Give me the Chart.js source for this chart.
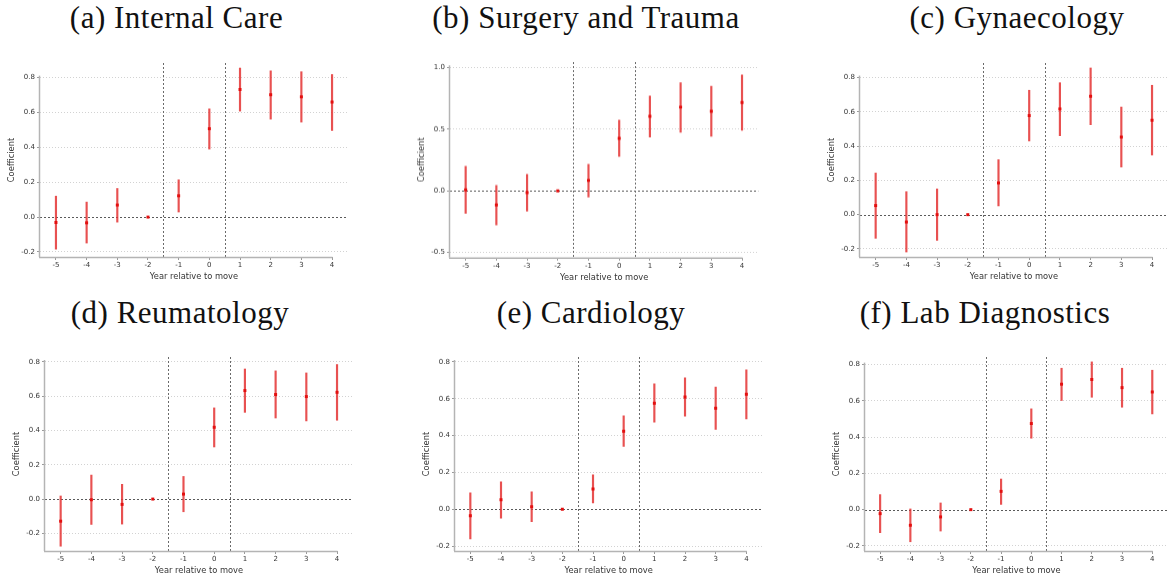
<!DOCTYPE html>
<html>
<head>
<meta charset="utf-8">
<script src="https://cdn.jsdelivr.net/npm/chart.js@4.4.1/dist/chart.umd.min.js"></script>
<style>
  html, body { margin:0; padding:0; background:#fff; width:1167px; height:581px; overflow:hidden; }
  .panel { position:absolute; }
  .ptitle { position:absolute; width:400px; text-align:center; font-family:"Liberation Serif", "Times New Roman", serif;
            font-size:31px; line-height:31px; letter-spacing:0.5px; color:#111; white-space:nowrap; }
</style>
</head>
<body>
<script>
// ---------- DATA ----------
const years = [-5, -4, -3, -2, -1, 0, 1, 2, 3, 4];
const xTickLabels = ['-5', '-4', '-3', '-2', '-1', '0', '1', '2', '3', '4'];
const eventLines = [-1.5, 0.5];

const panelTitles = ['(a) Internal Care', '(b) Surgery and Trauma', '(c) Gynaecology',
                     '(d) Reumatology', '(e) Cardiology', '(f) Lab Diagnostics'];

const yTicksA = [-0.2, 0, 0.2, 0.4, 0.6, 0.8];
const yTickLabelsA = ['-0.2', '0.0', '0.2', '0.4', '0.6', '0.8'];
const yTicksB = [-0.5, 0, 0.5, 1.0];
const yTickLabelsB = ['-0.5', '0.0', '0.5', '1.0'];

// (a) Internal Care
const coefA = [-0.031, -0.033, 0.069, 0, 0.122, 0.507, 0.732, 0.702, 0.690, 0.660];
const loA   = [-0.184, -0.149, -0.029, 0, 0.029, 0.390, 0.608, 0.562, 0.545, 0.497];
const hiA   = [ 0.120,  0.086,  0.164, 0, 0.214, 0.621, 0.855, 0.839, 0.834, 0.818];
// (b) Surgery and Trauma
const coefB = [ 0.008, -0.114, -0.014, 0, 0.084, 0.425, 0.604, 0.678, 0.645, 0.715];
const loB   = [-0.182, -0.276, -0.165, 0, -0.051, 0.279, 0.436, 0.474, 0.442, 0.490];
const hiB   = [ 0.198,  0.043,  0.133, 0, 0.214, 0.572, 0.767, 0.875, 0.848, 0.938];
// (c) Gynaecology
const coefC = [ 0.053, -0.043, 0.000, 0, 0.185, 0.578, 0.617, 0.691, 0.453, 0.551];
const loC   = [-0.138, -0.218, -0.150, 0, 0.051, 0.430, 0.461, 0.525, 0.278, 0.348];
const hiC   = [ 0.243,  0.134,  0.150, 0, 0.321, 0.726, 0.770, 0.856, 0.628, 0.755];
// (d) Reumatology
const coefD = [-0.129, -0.004, -0.031, 0, 0.029, 0.419, 0.633, 0.610, 0.598, 0.623];
const loD   = [-0.275, -0.148, -0.146, 0, -0.074, 0.304, 0.506, 0.473, 0.456, 0.460];
const hiD   = [ 0.018,  0.140,  0.086, 0, 0.132, 0.532, 0.759, 0.748, 0.736, 0.785];
// (e) Cardiology
const coefE = [-0.036, 0.051, 0.013, 0, 0.110, 0.424, 0.576, 0.610, 0.549, 0.625];
const loE   = [-0.161, -0.049, -0.067, 0, 0.034, 0.341, 0.473, 0.505, 0.433, 0.491];
const hiE   = [ 0.089, 0.149, 0.094, 0, 0.187, 0.507, 0.681, 0.714, 0.663, 0.757];
// (f) Lab Diagnostics
const coefF = [-0.022, -0.086, -0.040, 0, 0.101, 0.475, 0.692, 0.718, 0.673, 0.649];
const loF   = [-0.127, -0.177, -0.118, 0, 0.029, 0.394, 0.602, 0.620, 0.565, 0.528];
const hiF   = [ 0.083,  0.004,  0.037, 0, 0.169, 0.556, 0.780, 0.815, 0.780, 0.769];

// ---------- LAYOUT (page pixels of each plot region) ----------
const panels = [
  {coef:coefA, lo:loA, hi:hiA, yt:yTicksA, yl:yTickLabelsA, l:40,  r:348,   t:62.7, b:256.7, ymin:-0.229, ymax:0.884, xmin:-5.52, xmax:4.52, tc:176.5, tb:26.7},
  {coef:coefB, lo:loB, hi:hiB, yt:yTicksB, yl:yTickLabelsB, l:450, r:758.3, t:62.0, b:256.7, ymin:-0.541, ymax:1.043, xmin:-5.51, xmax:4.53, tc:586,   tb:26.7},
  {coef:coefC, lo:loC, hi:hiC, yt:yTicksA, yl:yTickLabelsA, l:860, r:1168,  t:62.7, b:256.7, ymin:-0.247, ymax:0.885, xmin:-5.51, xmax:4.52, tc:1017,  tb:26.7},
  {coef:coefD, lo:loD, hi:hiD, yt:yTicksA, yl:yTickLabelsA, l:45,  r:353,   t:357,  b:551,   ymin:-0.303, ymax:0.829, xmin:-5.51, xmax:4.52, tc:180,   tb:321.7},
  {coef:coefE, lo:loE, hi:hiE, yt:yTicksA, yl:yTickLabelsA, l:455, r:762.3, t:357,  b:551,   ymin:-0.227, ymax:0.827, xmin:-5.50, xmax:4.52, tc:591,   tb:321.7},
  {coef:coefF, lo:loF, hi:hiF, yt:yTicksA, yl:yTickLabelsA, l:865, r:1168,  t:357,  b:551,   ymin:-0.228, ymax:0.842, xmin:-5.50, xmax:4.52, tc:985,   tb:321.7}
];

const Y_W = 45, X_H = 30, PAD_T = 8, PAD_R = 5;

const refLines = {
  id: 'refLines',
  beforeDatasetsDraw(chart) {
    const {ctx, chartArea: a, scales: {x, y}} = chart;
    ctx.save();
    ctx.lineWidth = 1;
    ctx.strokeStyle = '#5a5a5a';
    ctx.setLineDash([2, 2]);
    const y0 = Math.round(y.getPixelForValue(0)) + 0.5;
    ctx.beginPath(); ctx.moveTo(a.left, y0); ctx.lineTo(a.right, y0); ctx.stroke();
    ctx.strokeStyle = '#6a6a6a';
    eventLines.forEach(v => {
      const xp = Math.round(x.getPixelForValue(v)) + 0.5;
      ctx.beginPath(); ctx.moveTo(xp, a.top); ctx.lineTo(xp, a.bottom); ctx.stroke();
    });
    ctx.restore();
  },
  afterDraw(chart) {
    const {ctx, chartArea: a, scales: {x, y}} = chart;
    const p = chart.options.plugins.refLines;
    ctx.save();
    ctx.setLineDash([]);
    ctx.strokeStyle = '#b4b4b4';
    ctx.lineWidth = 1.5;
    const topTick = y.getPixelForValue(p.yTop) - 2;
    ctx.beginPath(); ctx.moveTo(a.left - 0.5, a.bottom); ctx.lineTo(a.left - 0.5, topTick); ctx.stroke();
    const xEnd = x.getPixelForValue(p.xLast);
    ctx.beginPath(); ctx.moveTo(a.left - 1, a.bottom + 0.5); ctx.lineTo(xEnd + 0.5, a.bottom + 0.5); ctx.stroke();
    ctx.restore();
  }
};

panels.forEach((p, idx) => {
  const tdiv = document.createElement('div');
  tdiv.className = 'ptitle';
  tdiv.textContent = panelTitles[idx];
  tdiv.style.left = (p.tc - 200) + 'px';
  tdiv.style.top = (p.tb - 24.5) + 'px';
  document.body.appendChild(tdiv);

  const div = document.createElement('div');
  div.className = 'panel';
  const left = p.l - Y_W, top = p.t - PAD_T;
  const w = (p.r + PAD_R) - left, h = (p.b + X_H) - top;
  div.style.left = left + 'px'; div.style.top = top + 'px';
  div.style.width = w + 'px'; div.style.height = h + 'px';
  const cv = document.createElement('canvas');
  div.appendChild(cv);
  document.body.appendChild(div);

  new Chart(cv, {
    type: 'scatter',
    data: {
      datasets: [
        {
          type: 'bar',
          data: years.map((x, i) => ({x: x, y: [p.lo[i], p.hi[i]]})),
          backgroundColor: 'rgba(228,50,50,0.85)',
          borderWidth: 0,
          barThickness: 1.5,
          grouped: false,
          order: 2
        },
        {
          type: 'scatter',
          data: years.map((x, i) => ({x: x, y: p.coef[i]})),
          pointStyle: 'rect',
          pointRadius: 2.1,
          backgroundColor: '#e30f0f',
          borderColor: '#e30f0f',
          borderWidth: 0,
          order: 1
        }
      ]
    },
    options: {
      responsive: true,
      maintainAspectRatio: false,
      animation: false,
      events: [],
      layout: {padding: {top: PAD_T, right: PAD_R, left: 0, bottom: 0}},
      plugins: {
        legend: {display: false},
        tooltip: {enabled: false},
        refLines: {yTop: p.yt[p.yt.length - 1], xLast: years[years.length - 1]}
      },
      scales: {
        x: {
          type: 'linear',
          offset: false,
          min: p.xmin, max: p.xmax,
          afterBuildTicks: s => { s.ticks = years.map(v => ({value: v})); },
          afterFit: s => { s.height = X_H; },
          grid: {display: true, offset: false, drawOnChartArea: false, drawTicks: true, tickLength: 3, tickColor: '#999', tickWidth: 1},
          border: {display: false},
          ticks: {
            autoSkip: false, maxRotation: 0, padding: 1,
            color: '#333', font: {family: 'DejaVu Sans', size: 7},
            callback: (v) => xTickLabels[years.indexOf(v)]
          },
          title: {display: true, text: 'Year relative to move', color: '#333',
                  font: {family: 'DejaVu Sans', size: 8.3}, padding: {top: 0, bottom: 5}}
        },
        y: {
          type: 'linear',
          min: p.ymin, max: p.ymax,
          afterBuildTicks: s => { s.ticks = p.yt.map(v => ({value: v})); },
          afterFit: s => { s.width = Y_W; },
          grid: {
            drawOnChartArea: true, drawTicks: true, tickLength: 3, lineWidth: 1,
            color: c => (c.tick && c.tick.value === 0) ? 'rgba(0,0,0,0)' : '#d2d2d2',
            tickColor: '#999'
          },
          border: {display: false, dash: [1, 2]},
          ticks: {
            padding: 2, color: '#333', font: {family: 'DejaVu Sans', size: 7},
            callback: (v) => p.yl[p.yt.indexOf(v)]
          },
          title: {display: true, text: 'Coefficient', color: '#333',
                  font: {family: 'DejaVu Sans', size: 8.3}, padding: {top: 12, bottom: 0}}
        }
      }
    },
    plugins: [refLines]
  });
});
</script>
</body>
</html>
